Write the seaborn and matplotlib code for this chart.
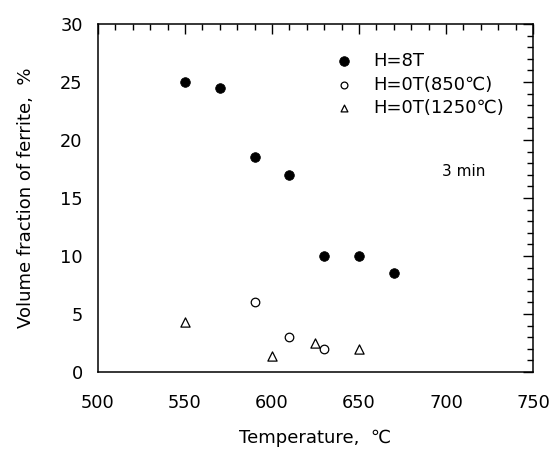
import pandas as pd
import matplotlib
matplotlib.use('Agg')
import matplotlib.pyplot as plt
from matplotlib.ticker import MultipleLocator
import seaborn as sns

# data
temp_8t = [550, 570, 590, 610, 630, 650, 670]
frac_8t = [25.0, 24.5, 18.5, 17.0, 10.0, 10.0, 8.5]

temp_850 = [590, 610, 630]
frac_850 = [6.0, 3.0, 2.0]

temp_1250 = [550, 600, 625, 650]
frac_1250 = [4.3, 1.4, 2.5, 2.0]

labels = ['H=8T', 'H=0T(850\u2103)', 'H=0T(1250\u2103)']

df = pd.concat([
    pd.DataFrame({'temp': temp_8t, 'frac': frac_8t, 'series': labels[0]}),
    pd.DataFrame({'temp': temp_850, 'frac': frac_850, 'series': labels[1]}),
    pd.DataFrame({'temp': temp_1250, 'frac': frac_1250, 'series': labels[2]}),
])

sns.set_style('white')
plt.rcParams['font.family'] = ['DejaVu Sans']
plt.rcParams['text.color'] = 'black'
plt.rcParams['xtick.color'] = 'black'
plt.rcParams['ytick.color'] = 'black'
plt.rcParams['axes.labelcolor'] = 'black'

fig = plt.figure(figsize=(5.52, 4.53), dpi=100)
ax = fig.add_axes([0.1775, 0.179, 0.788, 0.768])

sns.scatterplot(data=df[df['series'] == labels[0]], x='temp', y='frac', ax=ax,
                marker='o', s=48, color='black', edgecolor='black', label=labels[0])
sns.scatterplot(data=df[df['series'] == labels[1]], x='temp', y='frac', ax=ax,
                marker='o', s=38, facecolor='white', edgecolor='black', linewidth=0.9,
                label=labels[1])
sns.scatterplot(data=df[df['series'] == labels[2]], x='temp', y='frac', ax=ax,
                marker='^', s=44, facecolor='white', edgecolor='black', linewidth=0.9,
                label=labels[2])

ax.set_xlim(500, 750)
ax.set_ylim(0, 30)
ax.xaxis.set_major_locator(MultipleLocator(50))
ax.xaxis.set_minor_locator(MultipleLocator(10))
ax.yaxis.set_major_locator(MultipleLocator(5))
ax.yaxis.set_minor_locator(MultipleLocator(1))
ax.tick_params(which='both', direction='in', top=True, right=True, color='black', width=1)
ax.tick_params(which='major', length=7, labelsize=12.8)
ax.tick_params(axis='x', which='major', pad=16)
ax.tick_params(axis='y', which='major', pad=11)
ax.tick_params(which='minor', length=4.5)
for sp in ax.spines.values():
    sp.set_color('black')
    sp.set_linewidth(1.1)

ax.set_xlabel('Temperature,  \u2103', fontsize=13, labelpad=12)
ax.set_ylabel('Volume fraction of ferrite,  %', fontsize=13, labelpad=18)

leg = ax.legend(loc='upper left', bbox_to_anchor=(0.52, 0.945), frameon=False,
                fontsize=13, handletextpad=1.0, labelspacing=0.3,
                borderpad=0, handlelength=1.2)
for h, sz in zip(leg.legend_handles, [48, 24, 24]):
    h.set_sizes([sz])
ax.text(0.84, 0.575, '3 min', transform=ax.transAxes, fontsize=11, ha='center', va='center')

fig.savefig('out.png', dpi=100)
